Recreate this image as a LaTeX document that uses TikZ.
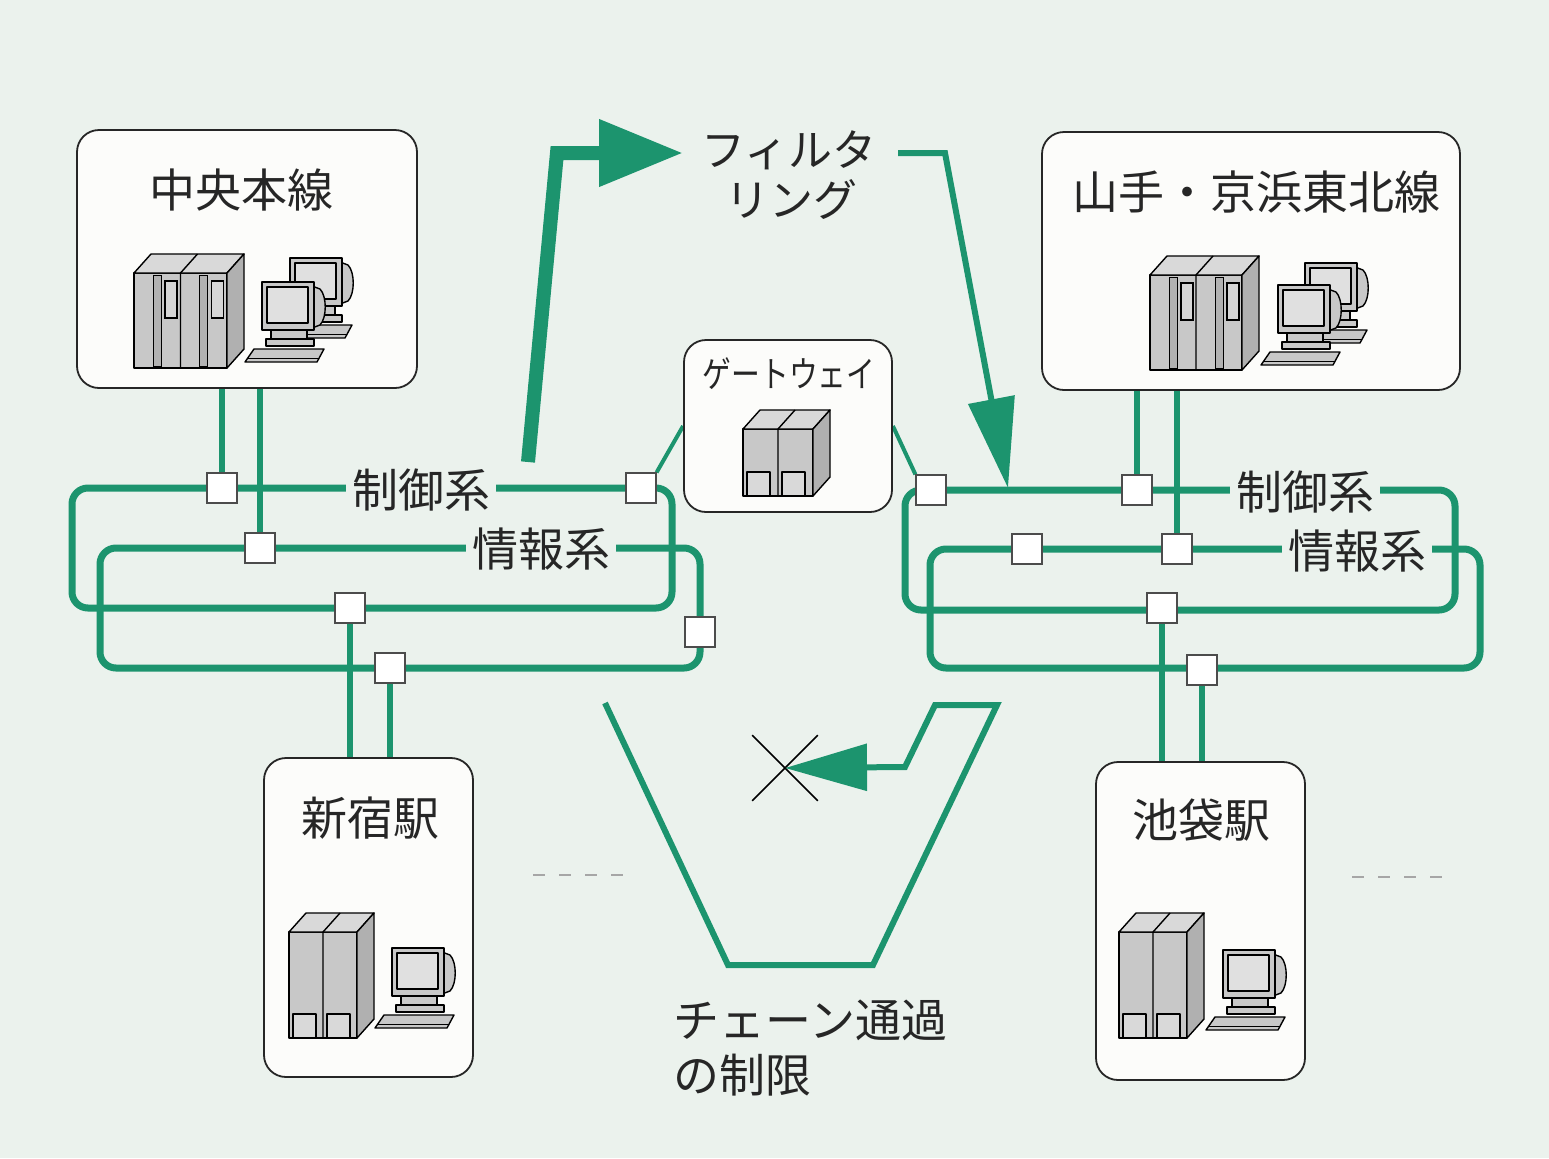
\documentclass[tikz,border=0pt]{standalone}
\usepackage{fontspec}
\setmainfont{Noto Sans CJK JP}
\usetikzlibrary{arrows.meta,shapes.misc}
\definecolor{paper}{RGB}{235,242,237}
\definecolor{net}{RGB}{28,148,110}
\definecolor{boxfill}{RGB}{252,252,250}
\definecolor{ink}{RGB}{38,38,38}
\definecolor{metal}{RGB}{200,200,200}
\definecolor{glass}{RGB}{224,224,224}
\pgfdeclarelayer{bottom}
\pgfdeclarelayer{wires}
\pgfsetlayers{bottom,wires,main}
\tikzset{
  panel/.style={draw=ink,line width=0.9pt,fill=boxfill,rounded corners=11pt,inner sep=0pt},
  title/.style={text=ink,font=\fontsize{23pt}{27pt}\selectfont,inner sep=0pt},
  netlabel/.style={text=ink,font=\fontsize{23pt}{27pt}\selectfont,fill=paper,inner xsep=3pt,inner ysep=1pt},
  ring/.style={draw=net,line width=3.5pt,rounded corners=8pt},
  drop/.style={draw=net,line width=3pt},
  tap/.style={draw=black!70,fill=white,line width=0.6pt,minimum size=15pt,inner sep=0pt},
  part/.style={draw=black,line width=0.7pt,fill=metal,line join=round},
  % twin cabinet: front, top and side faces
  pics/twincab/.style 2 args={code={
    \path[part] (0,0) rectangle (#1,-#2);
    \path[part,fill=metal!70!white] (0,-#2) -- ++(17,-19) -- ++(#1,0) -- (#1,-#2) -- cycle;
    \path[part,fill=metal!88!black] (#1,0) -- ++(17,-19) -- ++(0,-#2) -- ++(-17,19) -- cycle;
    \draw[line width=0.7pt] ({#1/2},0) -- ({#1/2},-#2) -- ++(17,-19);
  }},
  % host cabinet front details
  pics/hostpanels/.style 2 args={code={
    \foreach \o in {0,#1/2}{
      \draw[line width=0.5pt,fill=black!30] ({\o+19},-2) rectangle ({\o+27},{-#2+2});
      \draw[line width=0.6pt,fill=metal!75!white] ({\o+31},{-#2+8}) rectangle ({\o+43},{-#2+45});
    }
  }},
  % station cabinet doors
  pics/cabdoors/.style={code={
    \foreach \o in {0,#1/2}{
      \draw[part,fill=metal!70!white] ({\o+4},0) rectangle ({\o+27},-24);
    }
  }},
  % terminal: CRT monitor, stand and keyboard
  pics/crt/.style={code={
    \path[part] (50,4) -- (58,7) .. controls (65,14) and (65,36) .. (58,43) -- (50,46) -- cycle;
    \path[part] (9,48) rectangle (45,57);
    \path[part] (4,57) rectangle (52,64);
    \path[part] (0,0) rectangle (52,48);
    \path[part,fill=glass] (5,5) rectangle (46,41);
    \path[part] (-17,80) -- (55,80) -- (62,67) -- (-8,67) -- cycle;
    \draw[line width=0.5pt] (-14,76) -- (57,76);
  }}
}
\begin{document}
\begin{tikzpicture}[x=0.5pt,y=-0.5pt]
\begin{pgfonlayer}{bottom}
  \fill[paper] (0,0) rectangle (1549,1158);
\end{pgfonlayer}
\useasboundingbox (0,0) rectangle (1549,1158);

% line panels and stations
\node[panel,minimum width=170pt,minimum height=129pt] (chuo) at (247,259) {};
\node[panel,minimum width=209pt,minimum height=129pt] (yama) at (1251,261) {};
\node[panel,minimum width=104.5pt,minimum height=159.5pt] (shin) at (368.5,917.5) {};
\node[panel,minimum width=104.5pt,minimum height=159pt] (ike) at (1200.5,921) {};
\node[panel,minimum width=104pt,minimum height=86pt] (gw) at (788,426) {};

\node[title] (chuoT) at (241,190) {中央本線};
\node[title] (yamaT) at (1256,192) {山手・京浜東北線};
\node[title] (shinT) at (370,818) {新宿駅};
\node[title] (ikeT) at (1201,820) {池袋駅};
\node[title,font=\fontsize{18pt}{21pt}\selectfont] (gwT) at (789,374) {\scalebox{0.8}[1]{ゲートウェイ}};

% equipment
\pic at (134,368) {twincab={93}{95}};
\pic at (134,368) {hostpanels={93}{95}};
\pic at (290,258) {crt};
\pic at (262,282) {crt};

\pic at (1150,370) {twincab={92}{95}};
\pic at (1150,370) {hostpanels={92}{95}};
\pic at (1305,263) {crt};
\pic at (1278,285) {crt};

\pic at (289,1038) {twincab={68}{106}};
\pic at (289,1038) {cabdoors={68}};
\pic at (392,948) {crt};

\pic at (1119,1038) {twincab={68}{106}};
\pic at (1119,1038) {cabdoors={68}};
\pic at (1223,950) {crt};

\pic at (743,496) {twincab={70}{67}};
\pic at (743,496) {cabdoors={70}};

% taps on the rings
\node[tap] (a1) at (222,488) {};
\node[tap] (a2) at (260,548) {};
\node[tap] (a3) at (641,488) {};
\node[tap] (a4) at (350,608) {};
\node[tap] (a5) at (700,632) {};
\node[tap] (a6) at (390,668) {};
\node[tap] (b1) at (931,490) {};
\node[tap] (b2) at (1137,490) {};
\node[tap] (b3) at (1027,549) {};
\node[tap] (b4) at (1177,549) {};
\node[tap] (b5) at (1162,608) {};
\node[tap] (b6) at (1202,670) {};

\begin{pgfonlayer}{wires}
  \draw[ring] (72,488) rectangle (672,608);
  \draw[ring] (100,548) rectangle (700,668);
  \draw[ring] (905,490) rectangle (1455,610);
  \draw[ring] (930,549) rectangle (1480,668);
  \draw[drop] (a1) -- (a1 |- chuo.south);
  \draw[drop] (a2) -- (a2 |- chuo.south);
  \draw[drop] (a4) -- (a4 |- shin.north);
  \draw[drop] (a6) -- (a6 |- shin.north);
  \draw[drop] (b2) -- (b2 |- yama.south);
  \draw[drop] (b4) -- (b4 |- yama.south);
  \draw[drop] (b5) -- (b5 |- ike.north);
  \draw[drop] (b6) -- (b6 |- ike.north);
  \draw[net,line width=2pt] (a3.north east) -- (gw.west);
  \draw[net,line width=2pt] (gw.east) -- (b1.north west);
\end{pgfonlayer}

\node[netlabel] (ctlA) at (421,490) {制御系};
\node[netlabel] (infA) at (541,549) {情報系};
\node[netlabel] (ctlB) at (1305,492) {制御系};
\node[netlabel] (infB) at (1357,551) {情報系};

% filtering between the two control networks
\node[title,font=\fontsize{22pt}{26pt}\selectfont] (filtA) at (789,150) {フィルタ};
\node[title,font=\fontsize{22pt}{26pt}\selectfont] (filtB) at (791,200) {リング};
\coordinate (up0) at (528,462);
\coordinate (up1) at (557,153);
\coordinate (tipA) at (683,153);
\draw[net,line width=7pt,line join=miter,-{Triangle[length=42pt,width=32pt]}] (up0) -- (up1) -- (tipA);
\coordinate (dn0) at (898,153);
\coordinate (dn1) at (945,153);
\coordinate (hit) at (1008,488);
\draw[net,line width=3pt,line join=miter,-{Triangle[length=45pt,width=23pt]}] (dn0) -- (dn1) -- (hit);

% chain passage blocked
\node[cross out,draw=black,line width=0.8pt,minimum size=32pt,inner sep=0pt] (stop) at (785,768) {};
\coordinate (c0) at (605,703);
\coordinate (c1) at (728,965);
\coordinate (c2) at (873,965);
\coordinate (c3) at (997,705);
\coordinate (c4) at (935,705);
\coordinate (c5) at (905,767);
\draw[net,line width=3pt,line join=miter,-{Triangle[length=41pt,width=23pt]}] (c0) -- (c1) -- (c2) -- (c3) -- (c4) -- (c5) -- (stop.center);
\node[title,anchor=west] (lim1) at (673,1020) {チェーン通過};
\node[title,anchor=west] (lim2) at (673,1075) {の制限};

% further stations
\draw[gray!70,line width=0.8pt,dash pattern=on 6pt off 7pt] (533,875) -- (625,875);
\draw[gray!70,line width=0.8pt,dash pattern=on 6pt off 7pt] (1352,877) -- (1445,877);
\end{tikzpicture}
\end{document}
